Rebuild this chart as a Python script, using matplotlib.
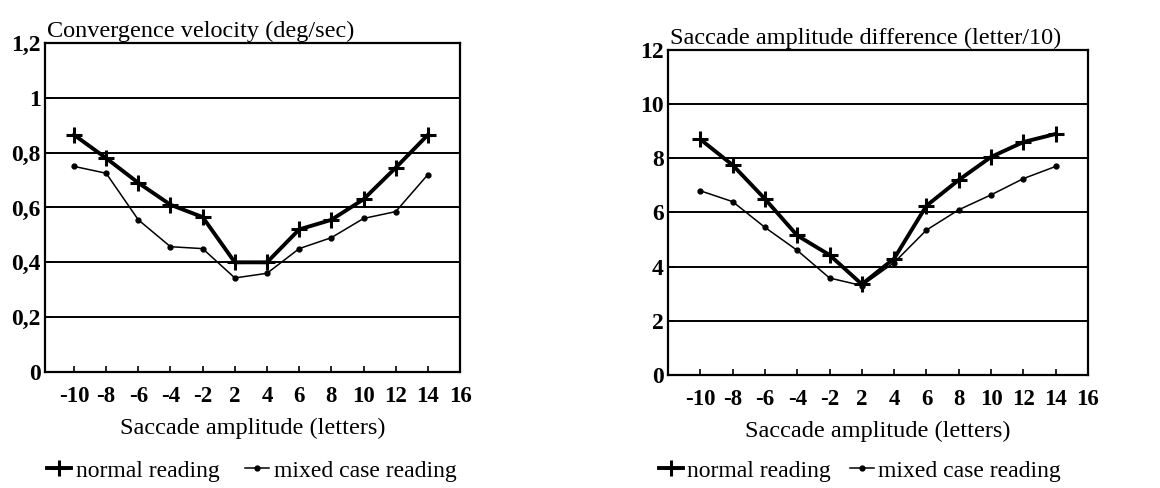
import matplotlib.pyplot as plt
import numpy as np

plt.rcParams['font.family'] = ['Liberation Serif', 'DejaVu Serif']

#saccade amplitude categories (letters)
amplitude = [-10, -8, -6, -4, -2, 2, 4, 6, 8, 10, 12, 14]
tick_labels = ['-10', '-8', '-6', '-4', '-2', '2', '4', '6', '8', '10', '12', '14', '16']

#convergence velocity (deg/sec)
conv_normal = [0.865, 0.78, 0.69, 0.61, 0.565, 0.40, 0.40, 0.52, 0.555, 0.63, 0.745, 0.865]
conv_mixed = [0.75, 0.725, 0.555, 0.457, 0.45, 0.343, 0.36, 0.45, 0.49, 0.56, 0.585, 0.72]
conv_yticks = [0, 0.2, 0.4, 0.6, 0.8, 1.0, 1.2]
conv_ylabels = ['0', '0,2', '0,4', '0,6', '0,8', '1', '1,2']

#saccade amplitude difference (letter/10)
diff_normal = [8.7, 7.75, 6.5, 5.15, 4.43, 3.35, 4.3, 6.25, 7.2, 8.05, 8.6, 8.9]
diff_mixed = [6.8, 6.4, 5.45, 4.6, 3.58, 3.3, 4.15, 5.35, 6.1, 6.65, 7.25, 7.7]
diff_yticks = [0, 2, 4, 6, 8, 10, 12]
diff_ylabels = ['0', '2', '4', '6', '8', '10', '12']

fig = plt.figure(figsize=(11.6, 4.88), dpi=100)
ax1 = fig.add_axes([0.0388, 0.2377, 0.3578, 0.6742])
ax2 = fig.add_axes([0.5759, 0.2316, 0.3620, 0.6660])

panels = [
    (ax1, conv_normal, conv_mixed, conv_yticks, conv_ylabels,
     'Convergence velocity (deg/sec)', -0.9, 252 / 1160, 1.1),
    (ax2, diff_normal, diff_mixed, diff_yticks, diff_ylabels,
     'Saccade amplitude difference (letter/10)', -1.0, 860 / 1160, 0.8),
]

x = np.arange(len(amplitude))
for ax, normal, mixed, yt, yl, title, xmin, legx, colsp in panels:
    #horizontal grid lines
    for v in yt[1:-1]:
        ax.axhline(v, color='black', lw=1.4, zorder=1)
    ax.plot(x, normal, color='black', lw=2.8, marker='+', ms=12, mew=2.2,
            label='normal reading', zorder=3)
    ax.plot(x, mixed, color='black', lw=1.1, marker='o', ms=3.5,
            label='mixed case reading', zorder=2)
    ax.set_xlim(xmin, 12)
    ax.set_ylim(yt[0], yt[-1])
    ax.set_xticks(np.arange(len(tick_labels)))
    ax.set_xticklabels(tick_labels, fontsize=16.5, fontweight='bold')
    ax.set_yticks(yt)
    ax.set_yticklabels(yl, fontsize=17, fontweight='bold')
    ax.tick_params(axis='both', direction='in', length=4, width=1.2)
    ax.tick_params(axis='x', pad=10)
    ax.tick_params(axis='y', pad=3)
    for s in ax.spines.values():
        s.set_linewidth(1.6)
    ax.text(0.005, 1.003, title, transform=ax.transAxes, fontsize=17.5,
            ha='left', va='bottom')
    ax.set_xlabel('Saccade amplitude (letters)', fontsize=17.5, labelpad=8)
    fig.legend(*ax.get_legend_handles_labels(), loc='center',
               bbox_to_anchor=(legx, 0.035), ncol=2, frameon=False,
               fontsize=17, handlelength=1.0, handletextpad=0.2,
               columnspacing=colsp, borderpad=0)

plt.savefig('out.png', dpi=100)
